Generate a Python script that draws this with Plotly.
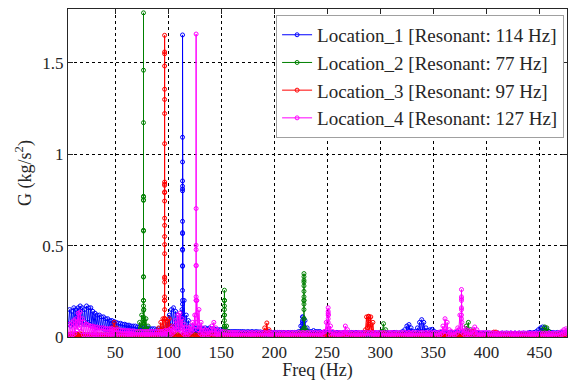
import numpy as np
import plotly.graph_objects as go

# 1 Hz spectrum stored as two interleaved lists:
# troughs at even frequencies, crests at odd frequencies (Hz)
FREQ_EVEN = list(np.arange(6, 477, 2))
FREQ_ODD = list(np.arange(7, 478, 2))

NAMES = ["Location_1 [Resonant: 114 Hz]", "Location_2 [Resonant: 77 Hz]",
         "Location_3 [Resonant: 97 Hz]", "Location_4 [Resonant: 127 Hz]"]

# ---------------- Location_1 (blue) ----------------
LOC1_CREST = [
    0.15, 0.14, 0.16, 0.15, 0.16, 0.17, 0.16, 0.15, 0.17, 0.16,
    0.16, 0.14, 0.13, 0.12, 0.12, 0.11, 0.11, 0.10, 0.10, 0.09,
    0.09, 0.085, 0.08, 0.075, 0.075, 0.07, 0.07, 0.065, 0.065, 0.06,
    0.06, 0.06, 0.055, 0.055, 0.05, 0.05, 0.05, 0.05, 0.045, 0.045,
    0.045, 0.04, 0.045, 0.04, 0.045, 0.05, 0.08, 0.12, 0.15, 0.16,
    0.14, 0.12, 0.10, 0.15, 0.20, 0.12, 0.09, 0.06, 0.06, 0.05,
    0.05, 0.05, 0.05, 0.045, 0.05, 0.045, 0.05, 0.045, 0.045, 0.04,
    0.04, 0.04, 0.035, 0.035, 0.035, 0.03, 0.03, 0.03, 0.03, 0.03,
    0.03, 0.03, 0.03, 0.028, 0.03, 0.028, 0.03, 0.028, 0.03, 0.028,
    0.028, 0.025, 0.028, 0.025, 0.03, 0.025, 0.025, 0.025, 0.025, 0.025,
    0.025, 0.025, 0.022, 0.025, 0.025, 0.025, 0.025, 0.025, 0.03, 0.06,
    0.11, 0.09, 0.05, 0.03, 0.03, 0.035, 0.03, 0.03, 0.03, 0.025,
    0.025, 0.025, 0.025, 0.025, 0.025, 0.022, 0.025, 0.025, 0.022, 0.025,
    0.025, 0.022, 0.025, 0.025, 0.022, 0.025, 0.025, 0.022, 0.025, 0.025,
    0.025, 0.025, 0.022, 0.025, 0.025, 0.022, 0.025, 0.025, 0.025, 0.025,
    0.025, 0.022, 0.025, 0.025, 0.025, 0.022, 0.025, 0.03, 0.04, 0.06,
    0.068, 0.05, 0.03, 0.03, 0.05, 0.08, 0.095, 0.08, 0.05, 0.035,
    0.04, 0.042, 0.03, 0.025, 0.025, 0.025, 0.022, 0.025, 0.025, 0.025,
    0.025, 0.022, 0.025, 0.025, 0.022, 0.025, 0.025, 0.022, 0.025, 0.025,
    0.025, 0.022, 0.025, 0.022, 0.022, 0.02, 0.022, 0.02, 0.022, 0.02,
    0.022, 0.02, 0.022, 0.02, 0.022, 0.02, 0.022, 0.02, 0.022, 0.02,
    0.022, 0.02, 0.022, 0.02, 0.022, 0.02, 0.022, 0.025, 0.022, 0.025,
    0.03, 0.04, 0.05, 0.055, 0.05, 0.04, 0.03, 0.025, 0.025, 0.022,
    0.025, 0.022, 0.025, 0.022, 0.025, 0.025,
]
LOC1_TROUGH = [
    0.07, 0.06, 0.07, 0.08, 0.07, 0.08, 0.08, 0.07, 0.07, 0.08,
    0.07, 0.06, 0.06, 0.05, 0.05, 0.05, 0.05, 0.04, 0.04, 0.04,
    0.04, 0.035, 0.035, 0.03, 0.03, 0.03, 0.03, 0.03, 0.03, 0.025,
    0.025, 0.025, 0.025, 0.02, 0.02, 0.02, 0.02, 0.02, 0.02, 0.02,
    0.02, 0.02, 0.02, 0.02, 0.02, 0.02, 0.03, 0.04, 0.05, 0.06,
    0.06, 0.05, 0.04, 0.05, 0.06, 0.04, 0.03, 0.02, 0.02, 0.02,
    0.02, 0.02, 0.02, 0.02, 0.015, 0.015, 0.015, 0.015, 0.015, 0.015,
    0.015, 0.015, 0.015, 0.015, 0.015, 0.015, 0.015, 0.015, 0.015, 0.015,
    0.012, 0.012, 0.012, 0.012, 0.012, 0.012, 0.012, 0.012, 0.012, 0.012,
    0.012, 0.012, 0.012, 0.012, 0.012, 0.012, 0.012, 0.012, 0.012, 0.012,
    0.012, 0.012, 0.012, 0.012, 0.012, 0.012, 0.012, 0.012, 0.012, 0.015,
    0.03, 0.04, 0.02, 0.012, 0.012, 0.012, 0.012, 0.012, 0.012, 0.012,
    0.012, 0.012, 0.012, 0.012, 0.012, 0.012, 0.012, 0.012, 0.012, 0.012,
    0.012, 0.012, 0.012, 0.012, 0.012, 0.012, 0.012, 0.012, 0.012, 0.012,
    0.012, 0.012, 0.012, 0.012, 0.012, 0.012, 0.012, 0.012, 0.012, 0.012,
    0.012, 0.012, 0.012, 0.012, 0.012, 0.012, 0.012, 0.012, 0.015, 0.02,
    0.02, 0.025, 0.015, 0.012, 0.015, 0.025, 0.03, 0.03, 0.02, 0.012,
    0.015, 0.015, 0.012, 0.012, 0.012, 0.012, 0.012, 0.012, 0.012, 0.012,
    0.012, 0.012, 0.012, 0.012, 0.012, 0.012, 0.012, 0.012, 0.012, 0.012,
    0.012, 0.012, 0.012, 0.012, 0.012, 0.012, 0.012, 0.012, 0.012, 0.012,
    0.012, 0.012, 0.012, 0.012, 0.012, 0.012, 0.012, 0.012, 0.012, 0.012,
    0.012, 0.012, 0.012, 0.012, 0.012, 0.012, 0.012, 0.012, 0.012, 0.012,
    0.012, 0.015, 0.02, 0.025, 0.02, 0.015, 0.012, 0.012, 0.012, 0.012,
    0.012, 0.012, 0.012, 0.012, 0.012, 0.012,
]

# ---------------- Location_2 (green) ----------------
LOC2_CREST = [
    0.01, 0.012, 0.01, 0.012, 0.01, 0.012, 0.01, 0.012, 0.01, 0.012,
    0.01, 0.012, 0.01, 0.012, 0.01, 0.012, 0.01, 0.012, 0.01, 0.012,
    0.01, 0.012, 0.01, 0.012, 0.01, 0.012, 0.01, 0.012, 0.01, 0.012,
    0.01, 0.012, 0.03, 0.08, 0.12, 0.15, 0.10, 0.06, 0.02, 0.01,
    0.01, 0.012, 0.01, 0.012, 0.01, 0.012, 0.01, 0.012, 0.01, 0.012,
    0.01, 0.012, 0.01, 0.012, 0.01, 0.012, 0.01, 0.012, 0.01, 0.012,
    0.01, 0.012, 0.01, 0.012, 0.01, 0.012, 0.01, 0.012, 0.01, 0.012,
    0.01, 0.01, 0.012, 0.05, 0.06, 0.03, 0.01, 0.01, 0.01, 0.012,
    0.01, 0.012, 0.01, 0.012, 0.01, 0.012, 0.01, 0.012, 0.01, 0.012,
    0.01, 0.012, 0.01, 0.012, 0.01, 0.012, 0.01, 0.012, 0.01, 0.012,
    0.01, 0.012, 0.01, 0.012, 0.01, 0.012, 0.01, 0.012, 0.01, 0.03,
    0.04, 0.05, 0.03, 0.01, 0.012, 0.01, 0.012, 0.01, 0.012, 0.01,
    0.01, 0.012, 0.01, 0.012, 0.01, 0.012, 0.01, 0.012, 0.01, 0.012,
    0.01, 0.012, 0.01, 0.012, 0.01, 0.012, 0.01, 0.012, 0.01, 0.012,
    0.01, 0.012, 0.01, 0.012, 0.01, 0.012, 0.01, 0.03, 0.073, 0.04,
    0.01, 0.012, 0.01, 0.012, 0.01, 0.012, 0.01, 0.012, 0.01, 0.012,
    0.01, 0.012, 0.01, 0.012, 0.01, 0.012, 0.01, 0.012, 0.01, 0.012,
    0.01, 0.012, 0.01, 0.012, 0.01, 0.012, 0.01, 0.012, 0.01, 0.012,
    0.01, 0.012, 0.01, 0.012, 0.01, 0.012, 0.01, 0.06, 0.08, 0.04,
    0.01, 0.012, 0.01, 0.012, 0.01, 0.012, 0.01, 0.012, 0.01, 0.012,
    0.01, 0.012, 0.01, 0.012, 0.01, 0.012, 0.01, 0.012, 0.01, 0.012,
    0.01, 0.012, 0.01, 0.012, 0.01, 0.012, 0.01, 0.012, 0.01, 0.012,
    0.01, 0.012, 0.01, 0.04, 0.055, 0.05, 0.03, 0.012, 0.01, 0.012,
    0.01, 0.012, 0.01, 0.012, 0.01, 0.012,
]
LOC2_TROUGH = [
    0.003, 0.004, 0.003, 0.004, 0.003, 0.004, 0.003, 0.004, 0.003, 0.004,
    0.003, 0.004, 0.003, 0.004, 0.003, 0.004, 0.003, 0.004, 0.003, 0.004,
    0.003, 0.004, 0.003, 0.004, 0.003, 0.004, 0.003, 0.004, 0.003, 0.004,
    0.003, 0.004, 0.01, 0.03, 0.05, 0.06, 0.04, 0.02, 0.004, 0.003,
    0.003, 0.004, 0.003, 0.004, 0.003, 0.004, 0.003, 0.004, 0.003, 0.004,
    0.003, 0.004, 0.003, 0.004, 0.003, 0.004, 0.003, 0.004, 0.003, 0.004,
    0.003, 0.004, 0.003, 0.004, 0.003, 0.004, 0.003, 0.004, 0.003, 0.004,
    0.003, 0.004, 0.003, 0.02, 0.02, 0.004, 0.003, 0.004, 0.003, 0.004,
    0.003, 0.004, 0.003, 0.004, 0.003, 0.004, 0.003, 0.004, 0.003, 0.004,
    0.003, 0.004, 0.003, 0.004, 0.003, 0.004, 0.003, 0.004, 0.003, 0.004,
    0.003, 0.004, 0.003, 0.004, 0.003, 0.004, 0.003, 0.004, 0.003, 0.004,
    0.02, 0.02, 0.004, 0.003, 0.004, 0.003, 0.004, 0.003, 0.004, 0.003,
    0.003, 0.004, 0.003, 0.004, 0.003, 0.004, 0.003, 0.004, 0.003, 0.004,
    0.003, 0.004, 0.003, 0.004, 0.003, 0.004, 0.003, 0.004, 0.003, 0.004,
    0.003, 0.004, 0.003, 0.004, 0.003, 0.004, 0.003, 0.004, 0.03, 0.004,
    0.003, 0.004, 0.003, 0.004, 0.003, 0.004, 0.003, 0.004, 0.003, 0.004,
    0.003, 0.004, 0.003, 0.004, 0.003, 0.004, 0.003, 0.004, 0.003, 0.004,
    0.003, 0.004, 0.003, 0.004, 0.003, 0.004, 0.003, 0.004, 0.003, 0.004,
    0.003, 0.004, 0.003, 0.004, 0.003, 0.004, 0.003, 0.004, 0.03, 0.004,
    0.003, 0.004, 0.003, 0.004, 0.003, 0.004, 0.003, 0.004, 0.003, 0.004,
    0.003, 0.004, 0.003, 0.004, 0.003, 0.004, 0.003, 0.004, 0.003, 0.004,
    0.003, 0.004, 0.003, 0.004, 0.003, 0.004, 0.003, 0.004, 0.003, 0.004,
    0.003, 0.004, 0.003, 0.004, 0.02, 0.02, 0.004, 0.003, 0.004, 0.003,
    0.003, 0.004, 0.003, 0.004, 0.003, 0.004,
]

# ---------------- Location_3 (red) ----------------
LOC3_CREST = [
    0.015, 0.018, 0.015, 0.018, 0.015, 0.018, 0.015, 0.012, 0.01, 0.012,
    0.01, 0.012, 0.01, 0.012, 0.01, 0.012, 0.01, 0.012, 0.01, 0.012,
    0.05, 0.08, 0.05, 0.01, 0.012, 0.01, 0.012, 0.01, 0.012, 0.01,
    0.01, 0.012, 0.01, 0.012, 0.01, 0.012, 0.01, 0.012, 0.01, 0.012,
    0.01, 0.02, 0.05, 0.08, 0.10, 0.10, 0.09, 0.10, 0.06, 0.03,
    0.01, 0.012, 0.01, 0.012, 0.01, 0.012, 0.01, 0.012, 0.01, 0.012,
    0.01, 0.012, 0.01, 0.012, 0.01, 0.012, 0.01, 0.012, 0.01, 0.012,
    0.01, 0.012, 0.01, 0.012, 0.01, 0.012, 0.01, 0.012, 0.01, 0.012,
    0.01, 0.012, 0.01, 0.012, 0.01, 0.012, 0.01, 0.012, 0.01, 0.012,
    0.01, 0.012, 0.05, 0.077, 0.04, 0.012, 0.01, 0.012, 0.01, 0.012,
    0.01, 0.012, 0.01, 0.012, 0.01, 0.012, 0.01, 0.012, 0.01, 0.012,
    0.01, 0.012, 0.01, 0.012, 0.01, 0.012, 0.01, 0.012, 0.01, 0.012,
    0.01, 0.012, 0.01, 0.012, 0.01, 0.012, 0.01, 0.012, 0.01, 0.012,
    0.01, 0.012, 0.01, 0.012, 0.01, 0.012, 0.01, 0.012, 0.01, 0.012,
    0.11, 0.113, 0.11, 0.08, 0.01, 0.012, 0.01, 0.012, 0.02, 0.012,
    0.01, 0.012, 0.01, 0.012, 0.01, 0.012, 0.01, 0.012, 0.01, 0.012,
    0.01, 0.012, 0.01, 0.012, 0.01, 0.012, 0.01, 0.012, 0.01, 0.012,
    0.01, 0.012, 0.01, 0.012, 0.01, 0.012, 0.01, 0.012, 0.01, 0.012,
    0.01, 0.012, 0.01, 0.012, 0.01, 0.012, 0.01, 0.012, 0.01, 0.03,
    0.03, 0.03, 0.012, 0.01, 0.012, 0.01, 0.012, 0.01, 0.012, 0.01,
    0.027, 0.027, 0.02, 0.012, 0.01, 0.012, 0.01, 0.012, 0.01, 0.012,
    0.01, 0.012, 0.01, 0.012, 0.01, 0.012, 0.01, 0.012, 0.01, 0.012,
    0.01, 0.012, 0.01, 0.012, 0.01, 0.012, 0.01, 0.012, 0.01, 0.012,
    0.01, 0.012, 0.01, 0.012, 0.01, 0.012,
]
LOC3_TROUGH = [
    0.0, 0.001, 0.0, 0.001, 0.0, 0.001, 0.0, 0.001, 0.0, 0.001,
    0.0, 0.001, 0.0, 0.001, 0.0, 0.001, 0.0, 0.001, 0.0, 0.001,
    0.0, 0.03, 0.02, 0.001, 0.0, 0.001, 0.0, 0.001, 0.0, 0.001,
    0.0, 0.001, 0.0, 0.001, 0.0, 0.001, 0.0, 0.001, 0.0, 0.001,
    0.0, 0.001, 0.01, 0.02, 0.03, 0.04, 0.03, 0.03, 0.02, 0.01,
    0.0, 0.001, 0.0, 0.001, 0.0, 0.001, 0.0, 0.001, 0.0, 0.001,
    0.0, 0.001, 0.0, 0.001, 0.0, 0.001, 0.0, 0.001, 0.0, 0.001,
    0.0, 0.001, 0.0, 0.001, 0.0, 0.001, 0.0, 0.001, 0.0, 0.001,
    0.0, 0.001, 0.0, 0.001, 0.0, 0.001, 0.0, 0.001, 0.0, 0.001,
    0.0, 0.001, 0.0, 0.03, 0.02, 0.001, 0.0, 0.001, 0.0, 0.001,
    0.0, 0.001, 0.0, 0.001, 0.0, 0.001, 0.0, 0.001, 0.0, 0.001,
    0.0, 0.001, 0.0, 0.001, 0.0, 0.001, 0.0, 0.001, 0.0, 0.001,
    0.0, 0.001, 0.0, 0.001, 0.0, 0.001, 0.0, 0.001, 0.0, 0.001,
    0.0, 0.001, 0.0, 0.001, 0.0, 0.001, 0.0, 0.001, 0.0, 0.001,
    0.04, 0.05, 0.04, 0.03, 0.0, 0.001, 0.0, 0.001, 0.0, 0.001,
    0.0, 0.001, 0.0, 0.001, 0.0, 0.001, 0.0, 0.001, 0.0, 0.001,
    0.0, 0.001, 0.0, 0.001, 0.0, 0.001, 0.0, 0.001, 0.0, 0.001,
    0.0, 0.001, 0.0, 0.001, 0.0, 0.001, 0.0, 0.001, 0.0, 0.001,
    0.0, 0.001, 0.0, 0.001, 0.0, 0.001, 0.0, 0.001, 0.0, 0.01,
    0.01, 0.01, 0.0, 0.001, 0.0, 0.001, 0.0, 0.001, 0.0, 0.001,
    0.01, 0.01, 0.0, 0.001, 0.0, 0.001, 0.0, 0.001, 0.0, 0.001,
    0.0, 0.001, 0.0, 0.001, 0.0, 0.001, 0.0, 0.001, 0.0, 0.001,
    0.0, 0.001, 0.0, 0.001, 0.0, 0.001, 0.0, 0.001, 0.0, 0.001,
    0.0, 0.001, 0.0, 0.001, 0.0, 0.001,
]

# ---------------- Location_4 (magenta) ----------------
LOC4_CREST = [
    0.07, 0.08, 0.09, 0.10, 0.13, 0.137, 0.10, 0.08, 0.07, 0.065,
    0.06, 0.06, 0.055, 0.055, 0.05, 0.05, 0.05, 0.045, 0.045, 0.045,
    0.045, 0.04, 0.04, 0.04, 0.038, 0.035, 0.035, 0.035, 0.035, 0.033,
    0.033, 0.03, 0.03, 0.03, 0.03, 0.03, 0.03, 0.03, 0.03, 0.03,
    0.03, 0.03, 0.03, 0.03, 0.03, 0.035, 0.035, 0.04, 0.05, 0.06,
    0.09, 0.12, 0.13, 0.10, 0.07, 0.05, 0.05, 0.06, 0.08, 0.12,
    0.20, 0.15, 0.08, 0.05, 0.04, 0.035, 0.04, 0.06, 0.08, 0.05,
    0.035, 0.03, 0.03, 0.028, 0.028, 0.025, 0.025, 0.025, 0.025, 0.025,
    0.025, 0.022, 0.025, 0.022, 0.025, 0.022, 0.025, 0.022, 0.025, 0.022,
    0.025, 0.022, 0.025, 0.022, 0.025, 0.022, 0.025, 0.022, 0.025, 0.022,
    0.025, 0.022, 0.025, 0.022, 0.025, 0.022, 0.025, 0.022, 0.025, 0.022,
    0.025, 0.022, 0.025, 0.022, 0.025, 0.022, 0.025, 0.022, 0.025, 0.022,
    0.03, 0.08, 0.12, 0.06, 0.03, 0.025, 0.022, 0.025, 0.022, 0.025,
    0.06, 0.04, 0.025, 0.022, 0.025, 0.022, 0.025, 0.022, 0.025, 0.022,
    0.025, 0.022, 0.025, 0.022, 0.025, 0.022, 0.025, 0.022, 0.025, 0.022,
    0.025, 0.022, 0.025, 0.022, 0.025, 0.022, 0.025, 0.022, 0.025, 0.022,
    0.025, 0.022, 0.025, 0.022, 0.025, 0.022, 0.025, 0.022, 0.025, 0.022,
    0.025, 0.022, 0.025, 0.022, 0.025, 0.03, 0.06, 0.10, 0.08, 0.04,
    0.03, 0.025, 0.03, 0.05, 0.12, 0.08, 0.05, 0.04, 0.035, 0.03,
    0.04, 0.055, 0.04, 0.025, 0.022, 0.025, 0.022, 0.025, 0.022, 0.022,
    0.022, 0.02, 0.022, 0.02, 0.022, 0.02, 0.022, 0.02, 0.022, 0.02,
    0.022, 0.02, 0.022, 0.02, 0.022, 0.02, 0.022, 0.02, 0.022, 0.02,
    0.022, 0.02, 0.022, 0.02, 0.022, 0.02, 0.022, 0.02, 0.022, 0.02,
    0.022, 0.025, 0.03, 0.04, 0.045, 0.04,
]
LOC4_TROUGH = [
    0.012, 0.01, 0.012, 0.02, 0.04, 0.05, 0.03, 0.012, 0.01, 0.012,
    0.01, 0.008, 0.01, 0.008, 0.006, 0.008, 0.006, 0.008, 0.006, 0.005,
    0.004, 0.005, 0.004, 0.005, 0.004, 0.005, 0.004, 0.005, 0.004, 0.005,
    0.004, 0.005, 0.004, 0.005, 0.004, 0.005, 0.004, 0.005, 0.004, 0.005,
    0.004, 0.005, 0.004, 0.005, 0.004, 0.005, 0.004, 0.005, 0.01, 0.02,
    0.03, 0.04, 0.04, 0.03, 0.02, 0.01, 0.01, 0.02, 0.03, 0.04,
    0.06, 0.04, 0.02, 0.01, 0.005, 0.005, 0.01, 0.02, 0.02, 0.005,
    0.004, 0.005, 0.004, 0.005, 0.004, 0.005, 0.004, 0.005, 0.004, 0.005,
    0.004, 0.005, 0.004, 0.005, 0.004, 0.005, 0.004, 0.005, 0.004, 0.005,
    0.004, 0.005, 0.004, 0.005, 0.004, 0.005, 0.004, 0.005, 0.004, 0.005,
    0.004, 0.005, 0.004, 0.005, 0.004, 0.005, 0.004, 0.005, 0.004, 0.005,
    0.004, 0.005, 0.004, 0.005, 0.004, 0.005, 0.004, 0.005, 0.004, 0.005,
    0.01, 0.03, 0.04, 0.02, 0.005, 0.004, 0.005, 0.004, 0.005, 0.004,
    0.02, 0.01, 0.005, 0.004, 0.005, 0.004, 0.005, 0.004, 0.005, 0.004,
    0.004, 0.005, 0.004, 0.005, 0.004, 0.005, 0.004, 0.005, 0.004, 0.005,
    0.004, 0.005, 0.004, 0.005, 0.004, 0.005, 0.004, 0.005, 0.004, 0.005,
    0.004, 0.005, 0.004, 0.005, 0.004, 0.005, 0.004, 0.005, 0.004, 0.005,
    0.004, 0.005, 0.004, 0.005, 0.004, 0.01, 0.02, 0.03, 0.03, 0.01,
    0.005, 0.004, 0.01, 0.02, 0.04, 0.03, 0.02, 0.01, 0.01, 0.005,
    0.01, 0.02, 0.01, 0.005, 0.004, 0.005, 0.004, 0.005, 0.004, 0.005,
    0.004, 0.005, 0.004, 0.005, 0.004, 0.005, 0.004, 0.005, 0.004, 0.005,
    0.004, 0.005, 0.004, 0.005, 0.004, 0.005, 0.004, 0.005, 0.004, 0.005,
    0.004, 0.005, 0.004, 0.005, 0.004, 0.005, 0.004, 0.005, 0.004, 0.005,
    0.004, 0.005, 0.01, 0.015, 0.02, 0.015,
]

# ---- sharp peaks: frequency (Hz) -> sampled G values along the peak ----
PEAKS_LOC1 = {
    113.5: [0.10, 0.18, 0.255, 0.39, 0.475, 0.566, 0.633, 0.80, 0.854, 0.958,
            1.093, 1.653, 0.825, 0.81, 0.571, 0.48, 0.387, 0.20, 0.12],
    226.6: [0.04, 0.07, 0.09, 0.11, 0.08, 0.05],
}
PEAKS_LOC2 = {
    76.7: [0.073, 0.11, 0.146, 0.17, 0.20, 0.328, 0.584, 0.748, 0.766, 1.173,
           1.46, 1.774, 0.77, 0.75, 0.58, 0.33, 0.20, 0.10],
    153.0: [0.06, 0.09, 0.12, 0.15, 0.17, 0.20, 0.256, 0.20, 0.12, 0.06],
    228.0: [0.05, 0.10, 0.15, 0.18, 0.20, 0.22, 0.25, 0.28, 0.31, 0.33,
            0.347, 0.30, 0.20, 0.10],
}
PEAKS_LOC3 = {
    96.6: [0.10, 0.15, 0.20, 0.22, 0.30, 0.328, 0.456, 0.506, 0.611, 0.744,
           0.794, 0.836, 0.848, 1.058, 1.223, 1.30, 1.356, 1.483, 1.55, 1.56,
           1.651, 0.83, 0.79, 0.65, 0.55, 0.32, 0.20, 0.10],
    289.0: [0.06, 0.09, 0.11, 0.113, 0.10, 0.07],
}
PEAKS_LOC4 = {
    126.3: [0.08, 0.20, 0.22, 0.39, 0.478, 0.502, 0.703, 1.658, 0.392, 0.20, 0.12],
    250.8: [0.05, 0.10, 0.12, 0.14, 0.16, 0.13, 0.08],
    376.5: [0.10, 0.15, 0.20, 0.22, 0.26, 0.21, 0.16, 0.12],
}

COLORS = ["#0000FF", "#008000", "#FF0000", "#FF00FF"]
SERIES = [(LOC1_TROUGH, LOC1_CREST, PEAKS_LOC1),
          (LOC2_TROUGH, LOC2_CREST, PEAKS_LOC2),
          (LOC3_TROUGH, LOC3_CREST, PEAKS_LOC3),
          (LOC4_TROUGH, LOC4_CREST, PEAKS_LOC4)]


def assemble(trough, crest, peaks):
    xs = list(FREQ_EVEN) + list(FREQ_ODD)
    ys = list(trough) + list(crest)
    for f, vals in peaks.items():
        xs += [f] * len(vals)
        ys += vals
    order = sorted(range(len(xs)), key=lambda i: xs[i])  # stable sort
    return [float(xs[i]) for i in order], [ys[i] for i in order]


FONT = "Liberation Serif"
TXT = "#262626"
fig = go.Figure()
for name, col, (tr, cr, pk) in zip(NAMES, COLORS, SERIES):
    x, y = assemble(tr, cr, pk)
    fig.add_trace(go.Scatter(
        x=x, y=y, name=name, mode="lines+markers",
        line=dict(color=col, width=1),
        marker=dict(symbol="circle-open", size=4, color=col, line=dict(width=1, color=col)),
    ))

axis_common = dict(
    automargin=False,
    showline=True, linecolor=TXT, linewidth=1, mirror="ticks",
    ticks="inside", ticklen=5, tickcolor=TXT,
    showgrid=True, gridcolor="#000000", gridwidth=1, griddash="3px,3px",
    zeroline=False, tickfont=dict(family=FONT, size=17, color=TXT),
)

fig.update_layout(
    template="none",
    width=570, height=381,
    margin=dict(l=68, r=3, t=9, b=44),
    paper_bgcolor="white", plot_bgcolor="white",
    font=dict(family=FONT, size=17, color=TXT),
    xaxis=dict(range=[5.5, 476], tickvals=[50, 100, 150, 200, 250, 300, 350, 400, 450],
               title=dict(text="Freq (Hz)", font=dict(family=FONT, size=18, color=TXT), standoff=4),
               **axis_common),
    yaxis=dict(range=[0, 1.795], tickvals=[0, 0.5, 1, 1.5], ticktext=["0", "0.5", "1", "1.5"],
               title=dict(text="G (kg/s<sup>2</sup>)", font=dict(family=FONT, size=18, color=TXT), standoff=6),
               **axis_common),
    legend=dict(x=0.417, y=0.982, xanchor="left", yanchor="top",
                bgcolor="white", bordercolor="#a0a0a0", borderwidth=1,
                font=dict(family=FONT, size=19, color=TXT),
                itemwidth=30, tracegroupgap=0),
    showlegend=True,
)

fig.write_html("out.html", config={"displayModeBar": False},
               post_script="document.body.style.margin='0';")
